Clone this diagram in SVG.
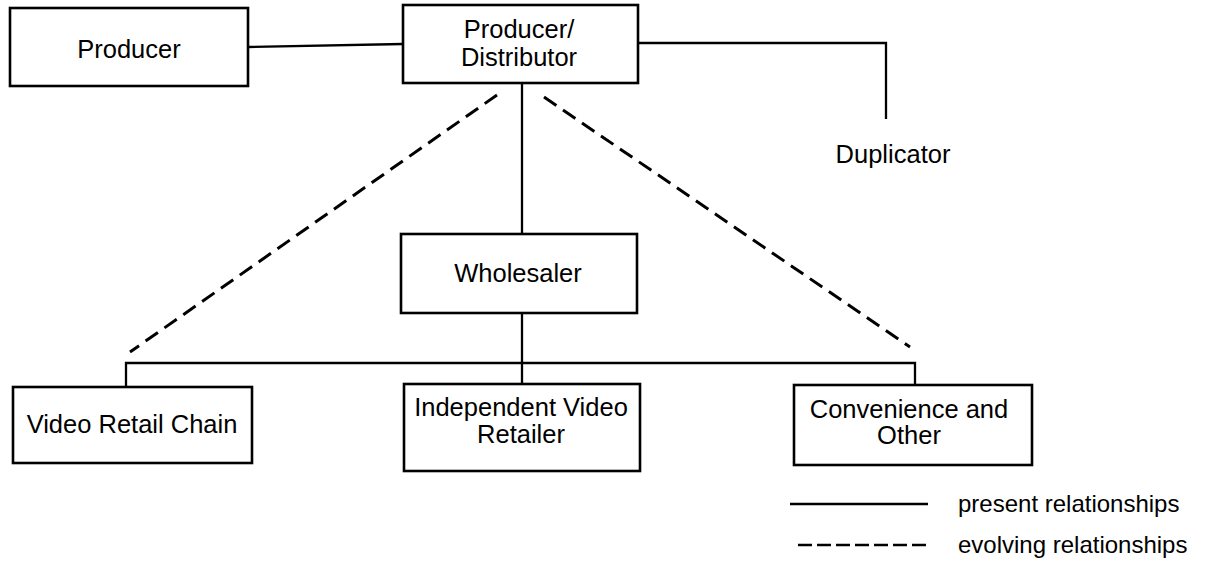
<svg xmlns="http://www.w3.org/2000/svg" width="1211" height="565" viewBox="0 0 1211 565">
<style>
.box{fill:#fff;stroke:#000;stroke-width:2.6}
.t{font-family:"Liberation Sans",Arial,sans-serif;font-size:25.5px;fill:#000;text-anchor:middle}
.tl{font-family:"Liberation Sans",Arial,sans-serif;font-size:24px;fill:#000}
.solid{fill:none;stroke:#000;stroke-width:2.3}
.dash{fill:none;stroke:#000;stroke-width:3;stroke-dasharray:15 8}
</style>
<rect width="1211" height="565" fill="#fff"/>
<g id="connectors">
<polyline class="solid" points="248,47 403,44"/>
<polyline class="solid" points="638,43 886,43 886,119"/>
<line class="solid" x1="522" y1="83" x2="522" y2="234"/>
<line class="solid" x1="522" y1="313" x2="522" y2="384"/>
<polyline class="solid" points="126,387 126,363 915,363 915,385"/>
<line class="dash" x1="497" y1="95" x2="130" y2="352"/>
<line class="dash" x1="544" y1="97" x2="910" y2="347"/>
</g>
<g id="producer">
<rect class="box" x="10" y="8" width="238" height="78"/>
<text class="t" x="129" y="58">Producer</text>
</g>
<g id="producer-distributor">
<rect class="box" x="403" y="5" width="235" height="78"/>
<text class="t" x="519" y="38">Producer/</text>
<text class="t" x="519" y="66">Distributor</text>
</g>
<g id="duplicator">
<text class="t" x="893" y="163">Duplicator</text>
</g>
<g id="wholesaler">
<rect class="box" x="401" y="234" width="236" height="79"/>
<text class="t" x="518" y="282">Wholesaler</text>
</g>
<g id="video-retail-chain">
<rect class="box" x="13" y="387" width="239" height="76"/>
<text class="t" x="132" y="433">Video Retail Chain</text>
</g>
<g id="independent-video-retailer">
<rect class="box" x="404" y="384" width="236" height="87"/>
<text class="t" x="521" y="416">Independent Video</text>
<text class="t" x="521" y="443">Retailer</text>
</g>
<g id="convenience-and-other">
<rect class="box" x="794" y="385" width="238" height="80"/>
<text class="t" x="909" y="418">Convenience and</text>
<text class="t" x="909" y="444">Other</text>
</g>
<g id="legend">
<line class="solid" x1="790" y1="504" x2="928" y2="504"/>
<text class="tl" x="958" y="512">present relationships</text>
<line class="dash" x1="798" y1="545" x2="928" y2="545" style="stroke-width:2.5;stroke-dasharray:14 5"/>
<text class="tl" x="958" y="553">evolving relationships</text>
</g>
</svg>
